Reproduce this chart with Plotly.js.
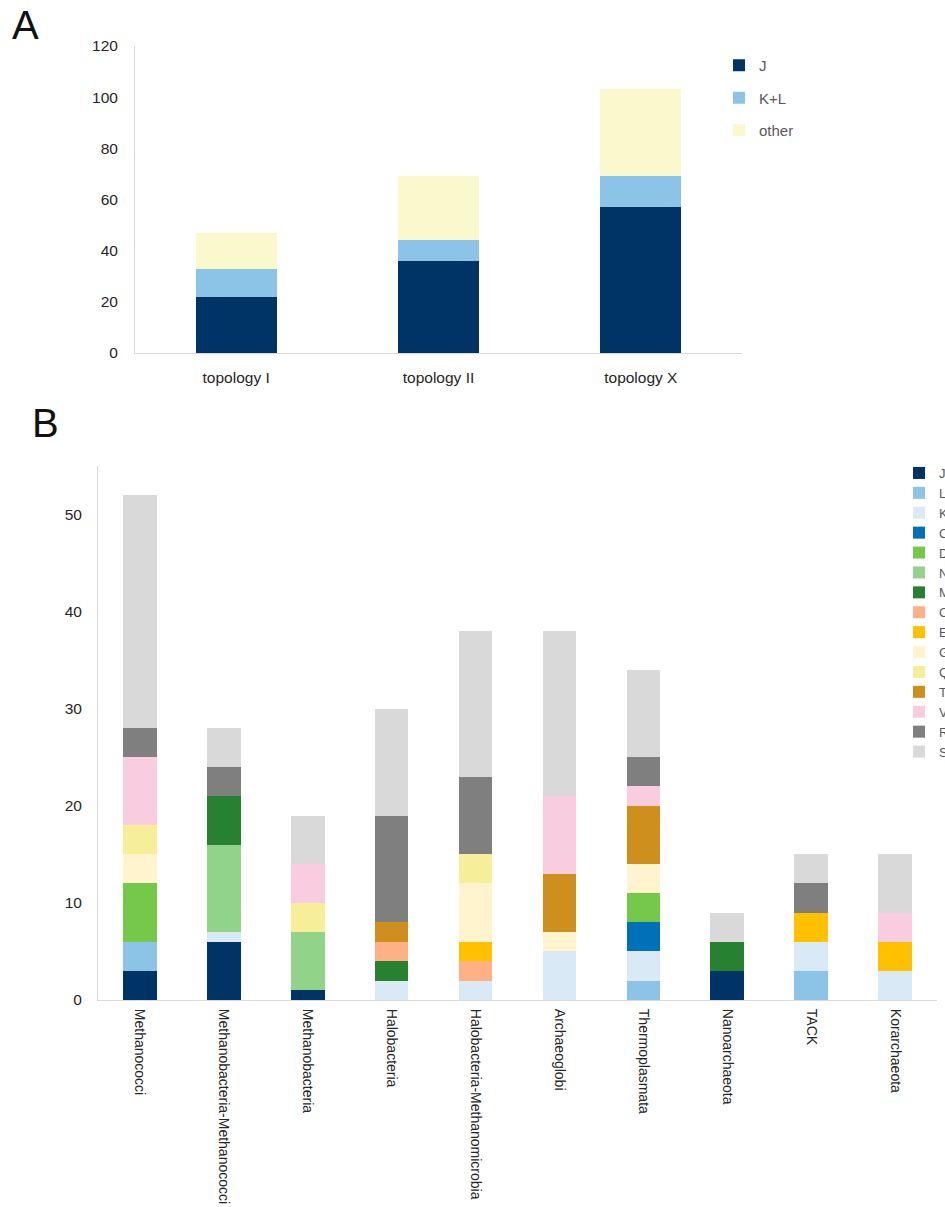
<!DOCTYPE html>
<html>
<head>
<meta charset="utf-8">
<script src="https://cdn.plot.ly/plotly-3.0.1.min.js"></script>
<style>
  html, body { margin: 0; padding: 0; background: #fff; }
  #chart { width: 945px; height: 1207px; }
</style>
</head>
<body>
<div id="chart"></div>
<script>
// ---------- Panel A data ----------
const topologies = ['topology I', 'topology II', 'topology X'];
const aJ = [22, 36, 57];
const aKL = [11, 8, 12];
const aOther = [14, 25, 34];

// ---------- Panel B data ----------
const groups = ['Methanococci', 'Methanobacteria-Methanococci', 'Methanobacteria', 'Halobacteria',
  'Halobacteria-Methanomicrobia', 'Archaeoglobi', 'Thermoplasmata', 'Nanoarchaeota', 'TACK', 'Korarchaeota'];
const cogNames = ['J', 'L', 'K', 'C', 'D', 'N', 'M', 'O', 'E', 'G', 'Q', 'T', 'V', 'R', 'S'];
const cogJ = [3, 6, 1, 0, 0, 0, 0, 3, 0, 0];
const cogL = [3, 0, 0, 0, 0, 0, 2, 0, 3, 0];
const cogK = [0, 1, 0, 2, 2, 5, 3, 0, 3, 3];
const cogC = [0, 0, 0, 0, 0, 0, 3, 0, 0, 0];
const cogD = [6, 0, 0, 0, 0, 0, 3, 0, 0, 0];
const cogN = [0, 9, 6, 0, 0, 0, 0, 0, 0, 0];
const cogM = [0, 5, 0, 2, 0, 0, 0, 3, 0, 0];
const cogO = [0, 0, 0, 2, 2, 0, 0, 0, 0, 0];
const cogE = [0, 0, 0, 0, 2, 0, 0, 0, 3, 3];
const cogG = [3, 0, 0, 0, 6, 2, 3, 0, 0, 0];
const cogQ = [3, 0, 3, 0, 3, 0, 0, 0, 0, 0];
const cogT = [0, 0, 0, 2, 0, 6, 6, 0, 0, 0];
const cogV = [7, 0, 4, 0, 0, 8, 2, 0, 0, 3];
const cogR = [3, 3, 0, 11, 8, 0, 3, 0, 3, 0];
const cogS = [24, 4, 5, 11, 15, 17, 9, 3, 3, 6];
const cogValues = [cogJ, cogL, cogK, cogC, cogD, cogN, cogM, cogO, cogE, cogG, cogQ, cogT, cogV, cogR, cogS];

// ---------- styles ----------
const colA = { J: '#003366', KL: '#8BC4E6', other: '#FAF8CC' };
const cogColors = ['#003366', '#8BC4E6', '#D9EAF6', '#0070B8', '#76C84A', '#92D38A', '#268230',
  '#FFB084', '#FFC000', '#FFF4CE', '#F6EE98', '#CE8F1C', '#F9CCE0', '#7F7F7F', '#D9D9D9'];

const W = 945, H = 1207;
const FONT = 'Liberation Sans, Arial, sans-serif';

const traces = [];
const aSeries = [['J', aJ, colA.J], ['K+L', aKL, colA.KL], ['other', aOther, colA.other]];
aSeries.forEach(([name, vals, color]) => {
  traces.push({
    type: 'bar', name: name, x: topologies, y: vals, xaxis: 'x', yaxis: 'y',
    marker: { color: color, line: { width: 0 } }, legend: 'legend', legendgroup: 'a_' + name
  });
});
cogNames.forEach((name, i) => {
  traces.push({
    type: 'bar', name: name, x: groups, y: cogValues[i], xaxis: 'x2', yaxis: 'y2',
    marker: { color: cogColors[i], line: { width: 0 } }, legend: 'legend2'
  });
});

const axisLine = '#D9D9D9';
const layout = {
  width: W, height: H,
  margin: { l: 0, r: 0, t: 0, b: 0, autoexpand: false },
  paper_bgcolor: '#ffffff', plot_bgcolor: '#ffffff',
  barmode: 'stack',
  font: { family: FONT, color: '#262626' },
  xaxis: {
    domain: [135 / W, 742 / W], anchor: 'y',
    showline: true, linecolor: axisLine, linewidth: 1,
    showgrid: false, zeroline: false,
    ticks: 'outside', ticklen: 10, tickcolor: 'rgba(0,0,0,0)',
    tickfont: { size: 15.5, color: '#262626' }
  },
  yaxis: {
    domain: [1 - 353 / H, 1 - 46 / H], anchor: 'x',
    range: [0, 120], dtick: 20,
    showline: true, linecolor: axisLine, linewidth: 1,
    showgrid: false, zeroline: false,
    ticks: 'outside', ticklen: 13, tickcolor: 'rgba(0,0,0,0)',
    tickfont: { size: 15.5, color: '#262626' }
  },
  xaxis2: {
    domain: [98 / W, 937 / W], anchor: 'y2',
    showline: true, linecolor: axisLine, linewidth: 1,
    showgrid: false, zeroline: false,
    tickangle: 90,
    ticks: 'outside', ticklen: 5, tickcolor: 'rgba(0,0,0,0)',
    tickfont: { size: 14, color: '#262626' }
  },
  yaxis2: {
    domain: [1 - 1000 / H, 1 - 466 / H], anchor: 'x2',
    range: [0, 55], dtick: 10,
    showline: true, linecolor: axisLine, linewidth: 1,
    showgrid: false, zeroline: false,
    ticks: 'outside', ticklen: 12, tickcolor: 'rgba(0,0,0,0)',
    tickfont: { size: 15.5, color: '#262626' }
  },
  bargap: 0.6,
  legend: {
    x: 719 / W, xanchor: 'left', y: 1 - 49 / H, yanchor: 'top',
    traceorder: 'grouped', tracegroupgap: 10,
    font: { size: 15, color: '#595959' },
    bgcolor: 'rgba(0,0,0,0)', borderwidth: 0
  },
  legend2: {
    x: 899 / W, xanchor: 'left', y: 1 - 458 / H, yanchor: 'top',
    traceorder: 'normal',
    font: { size: 13, color: '#595959' },
    bgcolor: 'rgba(0,0,0,0)', borderwidth: 0
  },
  showlegend: true,
  annotations: [
    { text: 'A', xref: 'paper', yref: 'paper', x: 10 / W, y: 1 - 25 / H, xanchor: 'left', yanchor: 'middle',
      showarrow: false, font: { size: 40, color: '#111111', family: FONT } },
    { text: 'B', xref: 'paper', yref: 'paper', x: 30 / W, y: 1 - 423 / H, xanchor: 'left', yanchor: 'middle',
      showarrow: false, font: { size: 40, color: '#111111', family: FONT } }
  ]
};

Plotly.newPlot('chart', traces, layout, { displayModeBar: false, staticPlot: true });
</script>
</body>
</html>
